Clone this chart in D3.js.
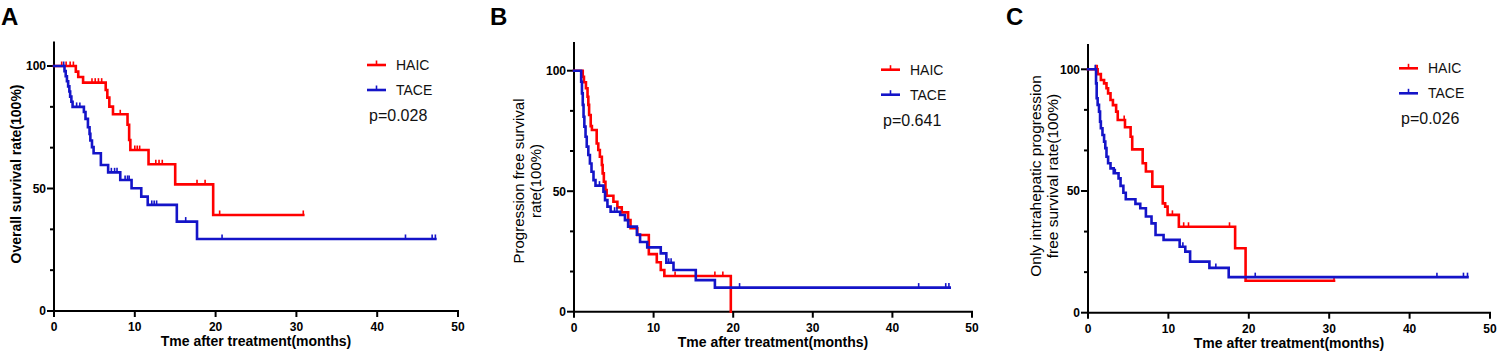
<!DOCTYPE html>
<html><head><meta charset="utf-8">
<script src="https://cdn.jsdelivr.net/npm/d3@7/dist/d3.min.js"></script>
<style>
html,body{margin:0;padding:0;background:#fff;}
svg{display:block;font-family:"Liberation Sans",Arial,Helvetica,sans-serif;}
</style></head>
<body>
<svg id="chart" width="1497" height="354"></svg>
<script>
// ---------- DATA ----------
const xTickValues = [0, 10, 20, 30, 40, 50];
const yTickValues = [0, 16.67, 33.33, 50, 66.67, 83.33, 100];
const yTickLabels = ["0", "", "", "50", "", "", "100"];
const seriesNames = ["HAIC", "TACE"];
const pValues = ["p=0.028", "p=0.641", "p=0.026"];
const panelLetters = ["A", "B", "C"];
const xTitle = "Tme after treatment(months)";
const yTitleA = ["Overall survival rate(100%)"];
const yTitleB = ["Progression free survival", "rate(100%)"];
const yTitleC = ["Only intrahepatic progression", "free survival rate(100%)"];

// Panel A: overall survival
const A_HAIC_time = [2.7, 3.0, 3.6, 6.4, 6.6, 6.85, 7.3, 9.1, 9.3, 9.45, 11.7, 15.0, 19.7];
const A_HAIC_surv = [97.7, 95.5, 93.2, 90.2, 87.1, 83.4, 80.3, 76.0, 69.8, 65.7, 59.9, 51.7, 39.2];
const A_HAIC_cens = [0.95, 1.5, 2.0, 2.4, 4.7, 5.1, 5.5, 5.9, 8.2, 10.0, 10.3, 10.6, 12.6, 13.0, 13.4, 17.7, 18.7, 20.5, 30.85];
const A_HAIC_end = 30.85;
const A_TACE_time = [1.3, 1.45, 1.6, 1.75, 1.9, 2.0, 2.15, 2.3, 3.7, 3.9, 4.2, 4.4, 4.5, 4.7, 4.9, 5.8, 6.7, 8.2, 9.6, 10.8, 11.6, 15.2, 17.7];
const A_TACE_surv = [97.9, 95.8, 93.8, 91.7, 89.6, 87.5, 85.4, 83.3, 81.2, 78.4, 75.0, 72.3, 69.6, 66.9, 64.4, 59.6, 56.6, 53.5, 50.1, 46.7, 43.3, 36.5, 29.4];
const A_TACE_cens = [1.2, 2.8, 3.2, 7.1, 7.5, 7.8, 8.8, 9.1, 9.3, 12.1, 12.4, 12.7, 16.3, 20.8, 43.5, 46.8, 47.2];
const A_TACE_end = 47.2;

// Panel B: progression free survival
const B_HAIC_time = [1.1, 1.25, 1.5, 1.7, 1.8, 1.9, 2.1, 2.25, 2.85, 3.05, 3.25, 3.5, 3.6, 3.75, 3.95, 4.1, 4.95, 5.45, 6.0, 6.8, 7.1, 7.95, 9.4, 10.4, 10.9, 11.35, 19.7];
const B_HAIC_surv = [97.5, 95.2, 92.7, 89.2, 85.8, 81.6, 77.0, 75.4, 69.8, 67.1, 64.3, 60.9, 57.4, 53.9, 50.5, 48.1, 45.6, 43.3, 41.2, 38.0, 34.6, 31.8, 23.9, 20.5, 17.3, 14.8, 0];
const B_HAIC_cens = [12.7, 17.7, 18.7];
const B_HAIC_end = 19.7;
const B_TACE_time = [0.9, 1.0, 1.1, 1.2, 1.3, 1.45, 1.6, 1.8, 2.0, 2.2, 2.45, 2.7, 3.7, 3.9, 4.2, 4.6, 5.8, 6.4, 6.8, 7.9, 8.3, 9.2, 10.9, 11.6, 12.5, 15.3, 17.7];
const B_TACE_surv = [95.4, 90.6, 85.8, 80.9, 76.8, 72.6, 68.5, 65.0, 61.5, 58.1, 54.6, 52.3, 49.8, 46.3, 43.6, 41.5, 40.1, 38.0, 35.3, 32.0, 28.9, 26.7, 24.2, 20.3, 17.3, 13.1, 10.0];
const B_TACE_cens = [3.2, 5.1, 5.4, 11.9, 12.2, 20.8, 43.3, 46.7, 47.1];
const B_TACE_end = 47.2;

// Panel C: only intrahepatic progression free survival
const C_HAIC_time = [1.2, 1.6, 2.0, 2.3, 2.5, 2.8, 3.1, 3.5, 3.7, 4.6, 5.3, 5.5, 6.8, 7.2, 8.0, 9.3, 9.6, 9.9, 11.3, 18.3, 19.6];
const C_HAIC_surv = [98.0, 95.6, 94.2, 92.2, 90.1, 87.4, 85.3, 82.6, 79.2, 76.2, 72.3, 67.1, 61.4, 58.0, 51.8, 44.9, 43.6, 40.2, 35.3, 26.5, 13.1];
const C_HAIC_cens = [1.0, 1.15, 4.5, 10.5, 11.9, 12.5, 17.6, 30.6];
const C_HAIC_end = 30.6;
const C_TACE_time = [1.0, 1.08, 1.2, 1.37, 1.5, 1.6, 1.8, 2.0, 2.15, 2.3, 2.5, 2.8, 3.2, 3.8, 4.05, 4.4, 4.7, 5.9, 6.5, 7.2, 7.9, 8.4, 9.4, 11.4, 12.1, 12.7, 15.1, 17.5];
const C_TACE_surv = [94.2, 88.1, 85.4, 82.6, 78.5, 75.8, 73.0, 70.3, 67.6, 64.1, 61.4, 59.3, 57.3, 55.2, 52.1, 49.3, 46.6, 44.7, 42.9, 39.5, 36.7, 31.9, 29.9, 27.1, 25.1, 21.0, 18.4, 14.6];
const C_TACE_cens = [0.9, 3.4, 11.8, 15.9, 20.8, 43.4, 46.7, 47.2];
const C_TACE_end = 47.2;

// ---------- LAYOUT / STYLE ----------
const colors = ["#ff0000", "#1414c8"];
const panels = [
  { x0: 54,   x1: 458,  y0: 311,   y100: 66,   yTop: 41.5, letterX: 1,    title: yTitleA, titleX: [16],        titleY: 174, titleBold: true,  titleSize: 14,
    series: [[A_HAIC_time, A_HAIC_surv, A_HAIC_cens, A_HAIC_end], [A_TACE_time, A_TACE_surv, A_TACE_cens, A_TACE_end]] },
  { x0: 574,  x1: 972,  y0: 311.7, y100: 70.7, yTop: 42,   letterX: 490,  title: yTitleB, titleX: [519, 536],  titleY: 181, titleBold: false, titleSize: 15,
    series: [[B_HAIC_time, B_HAIC_surv, B_HAIC_cens, B_HAIC_end], [B_TACE_time, B_TACE_surv, B_TACE_cens, B_TACE_end]] },
  { x0: 1088, x1: 1490, y0: 312.7, y100: 69.3, yTop: 44,   letterX: 1006, title: yTitleC, titleX: [1036, 1053], titleY: 176, titleBold: false, titleSize: 15.5,
    series: [[C_HAIC_time, C_HAIC_surv, C_HAIC_cens, C_HAIC_end], [C_TACE_time, C_TACE_surv, C_TACE_cens, C_TACE_end]] }
];

const svg = d3.select("#chart");

function survAt(times, survs, t) {
  let s = 100;
  for (let i = 0; i < times.length; i++) { if (times[i] <= t) s = survs[i]; }
  return s;
}

panels.forEach((p, pi) => {
  const x = d3.scaleLinear().domain([0, 50]).range([p.x0, p.x1]);
  const y = d3.scaleLinear().domain([0, 100]).range([p.y0, p.y100]);
  const g = svg.append("g");

  // panel letter
  g.append("text").attr("x", p.letterX).attr("y", 25)
    .attr("font-size", 24).attr("font-weight", "bold").attr("fill", "#000")
    .text(panelLetters[pi]);

  // axes
  const ax = g.append("g").attr("stroke", "#000").attr("stroke-width", 2).attr("fill", "none");
  ax.append("line").attr("x1", x(0)).attr("x2", x(0)).attr("y1", y(0) + 1).attr("y2", p.yTop);
  ax.append("line").attr("x1", x(0) - 1).attr("x2", x(50) + 1).attr("y1", y(0)).attr("y2", y(0));
  xTickValues.forEach(v => {
    ax.append("line").attr("x1", x(v)).attr("x2", x(v)).attr("y1", y(0)).attr("y2", y(0) + 6);
  });
  yTickValues.forEach((v, i) => {
    const len = yTickLabels[i] ? 7 : 4;
    ax.append("line").attr("x1", x(0) - len).attr("x2", x(0)).attr("y1", y(v)).attr("y2", y(v));
  });

  // tick labels
  xTickValues.forEach(v => {
    g.append("text").attr("x", x(v)).attr("y", y(0) + 20).attr("text-anchor", "middle")
      .attr("font-size", 12).attr("font-weight", "bold").text(v);
  });
  yTickValues.forEach((v, i) => {
    if (!yTickLabels[i]) return;
    g.append("text").attr("x", x(0) - 8).attr("y", y(v)).attr("dy", "0.36em").attr("text-anchor", "end")
      .attr("font-size", 12).attr("font-weight", "bold").text(yTickLabels[i]);
  });

  // axis titles
  g.append("text").attr("x", (x(0) + x(50)) / 2).attr("y", y(0) + 35).attr("text-anchor", "middle")
    .attr("font-size", 14).attr("font-weight", "bold").text(xTitle);
  p.title.forEach((line, li) => {
    g.append("text").attr("transform", `translate(${p.titleX[li]},${p.titleY}) rotate(-90)`)
      .attr("text-anchor", "middle").attr("dy", "0.35em")
      .attr("font-size", p.titleSize).attr("font-weight", p.titleBold ? "bold" : "normal").text(line);
  });

  // curves
  p.series.forEach((ser, si) => {
    const [times, survs, cens, end] = ser;
    const pts = [[0, 100]];
    let s = 100;
    times.forEach((t, i) => { pts.push([t, s]); s = survs[i]; pts.push([t, s]); });
    if (end > times[times.length - 1]) pts.push([end, s]);
    const line = d3.line().x(d => x(d[0])).y(d => y(d[1]));
    g.append("path").attr("d", line(pts)).attr("fill", "none")
      .attr("stroke", colors[si]).attr("stroke-width", 2.6).attr("stroke-linejoin", "miter").attr("stroke-linecap", "square");
    cens.forEach(t => {
      const sv = survAt(times, survs, t);
      g.append("line").attr("x1", x(t)).attr("x2", x(t)).attr("y1", y(sv)).attr("y2", y(sv) - 4.5)
        .attr("stroke", colors[si]).attr("stroke-width", 1.6);
    });
  });

  // legend
  const lx = p.x1 - 91;
  seriesNames.forEach((nm, si) => {
    const ly = p.y100 - 1 + si * 25;
    g.append("line").attr("x1", lx).attr("x2", lx + 19).attr("y1", ly).attr("y2", ly)
      .attr("stroke", colors[si]).attr("stroke-width", 2.6);
    g.append("line").attr("x1", lx + 9.5).attr("x2", lx + 9.5).attr("y1", ly).attr("y2", ly - 4.5)
      .attr("stroke", colors[si]).attr("stroke-width", 1.6);
    g.append("text").attr("x", p.x1 - 62).attr("y", ly).attr("dy", "0.36em")
      .attr("font-size", 14).attr("fill", "#111").text(nm);
  });
  g.append("text").attr("x", p.x1 - 89).attr("y", p.y100 + 55)
    .attr("font-size", 16).attr("fill", "#111").text(pValues[pi]);
});
</script>
</body></html>
